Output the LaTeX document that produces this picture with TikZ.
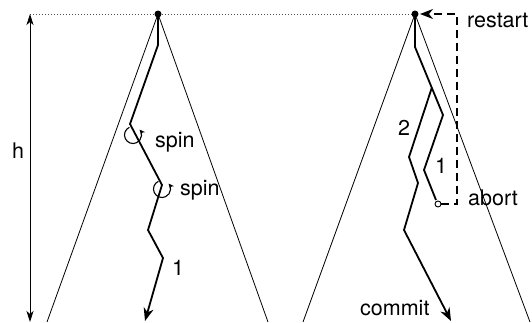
\documentclass[tikz,border=0pt]{standalone}
\usepackage{fontspec}
\setmainfont{TeX Gyre Heros}
\usepackage{tikz}
\usetikzlibrary{arrows.meta}
\usetikzlibrary{calc}
\tikzset{>={Stealth[length=13pt, width=10pt, inset=4pt]}}
\tikzset{
  cone/.style={line width=0.8pt},
  run/.style={line width=1.8pt, line join=miter},
  lbl/.style={inner sep=0pt, anchor=base west, font=\fontsize{21.5}{24}\selectfont},
  spinarr/.style={line width=1.1pt, -{Stealth[length=5.5pt, width=5pt, inset=1.5pt]}},
  htip/.style={{Stealth[length=11pt, width=7pt, inset=3pt]}-{Stealth[length=11pt, width=7pt, inset=3pt]}},
}

\begin{document}
\begin{tikzpicture}[x=1pt, y=-1pt]
            \useasboundingbox (0, 0) rectangle (532, 322);
            % the two apexes and the height
            \coordinate (L) at (158, 14);
            \coordinate (R) at (415, 14);
            \coordinate (htop) at (30, 14);
            \coordinate (hbot) at (30, 322);
            \draw[black!70, dotted, line width=1pt] (htop) -- (R);
            \draw[line width=0.8pt, htip] (htop) -- (hbot);
            \node[lbl] (hlabel) at (12, 158) {h};
            % left tree
            \draw[cone] (L) -- (47, 322);
            \draw[cone] (L) -- (268, 322);
            \coordinate (a1) at (158, 45);
            \coordinate (a2) at (130, 124);
            \coordinate (a3) at (162, 185);
            \coordinate (a4) at (148, 230);
            \coordinate (a5) at (163, 258);
            \coordinate (a6) at (145, 321);
            \draw[run, ->] (L) -- (a1) -- (a2) -- (a3) -- (a4) -- (a5) -- (a6);
            \draw[spinarr] ($(a2) + (3, 11) + (-115:8.5)$) arc[start angle=-115, end angle=-400, radius=8.5];
            \draw[spinarr] ($(a3) + (0, 4) + (-115:8.5)$) arc[start angle=-115, end angle=-400, radius=8.5];
            \node[lbl] (spinA) at (155, 147) {spin};
            \node[lbl] (spinB) at (180, 195) {spin};
            \node[lbl] (oneL) at (172, 275) {1};
            % right tree
            \draw[cone] (R) -- (303, 322);
            \draw[cone] (R) -- (530, 322);
            \coordinate (b1) at (415, 47);
            \coordinate (b2) at (443, 115);
            \coordinate (b3) at (424, 170);
            \coordinate (b4) at (436, 200);
            \coordinate (fork) at ($(b1)!0.6!(b2)$);
            \coordinate (c1) at (409, 157);
            \coordinate (c2) at (418, 183);
            \coordinate (c3) at (404, 230);
            \coordinate (c4) at (451, 321);
            \draw[run] (R) -- (b1) -- (b2) -- (b3) -- (b4);
            \draw[run, ->] (fork) -- (c1) -- (c2) -- (c3) -- (c4);
            \node[circle, draw, line width=0.9pt, minimum size=6pt, inner sep=0pt] (ab) at (438, 204) {};
            \coordinate (d1) at (457, 204);
            \coordinate (d2) at (457, 14);
            \coordinate (d3) at (420, 14);
            \draw[line width=1.6pt, dash pattern=on 8pt off 5pt, ->] (ab) -- (d1) -- (d2) -- (d3);
            \fill (L) circle [radius=3.5];
            \fill (R) circle [radius=3.5];
            \node[lbl] (restart) at (467, 27) {restart};
            \node[lbl] (abort) at (468, 205) {abort};
            \node[lbl] (oneR) at (435, 173) {1};
            \node[lbl] (two) at (398, 135) {2};
            \node[lbl] (commit) at (360, 315) {commit};
        \end{tikzpicture}
\end{document}
